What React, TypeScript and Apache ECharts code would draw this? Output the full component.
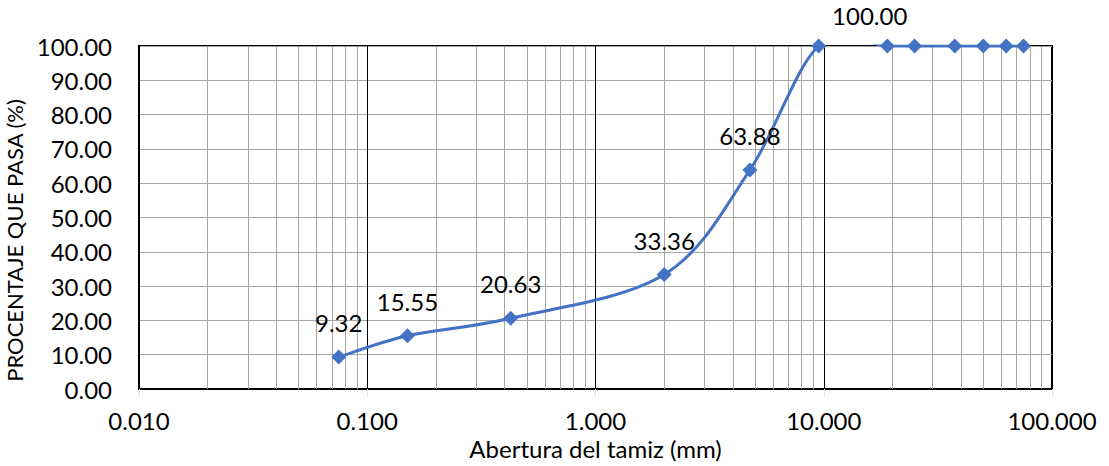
import React, { useEffect, useRef } from "react";
import * as echarts from "echarts";

const sieveSizes = [0.075, 0.15, 0.425, 2.0, 4.75, 9.5, 19, 25, 37.5, 50, 63, 75];
const percentPassing = [9.32, 15.55, 20.63, 33.36, 63.88, 100, 100, 100, 100, 100, 100, 100];
const labeledPoints = [true, true, true, true, true, true, false, false, false, false, false, false];
const minorGridValues = [
  0.02, 0.03, 0.04, 0.05, 0.06, 0.07, 0.08, 0.09,
  0.2, 0.3, 0.4, 0.5, 0.6, 0.7, 0.8, 0.9,
  2, 3, 4, 5, 6, 7, 8, 9,
  20, 30, 40, 50, 60, 70, 80, 90,
];
const xTitle = "Abertura del tamiz (mm)";
const yTitle = "PROCENTAJE QUE PASA (%)";

const FONT = "Lato, 'Open Sans', sans-serif";
const BLUE = "#4472C4";

export default function App() {
  const ref = useRef<HTMLDivElement>(null);
  useEffect(() => {
    if (!ref.current) return;
    const chart = echarts.init(ref.current, undefined, { renderer: "svg" });
    const points = sieveSizes.map((x, i) => [x, percentPassing[i]]);
    const data = points.map((p, i) => {
      const item: any = { value: p };
      if (labeledPoints[i]) {
        item.label = { show: true };
        if (i === 5) item.label.offset = [51, 4];
      }
      return item;
    });

    // Smoothed curve through the data points (Catmull-Rom style, as in spreadsheet charts)
    const renderCurve = (params: any, api: any) => {
      if (params.dataIndex !== 0) return null;
      const px = points.map((p) => api.coord(p));
      const n = px.length;
      let d = `M${px[0][0]},${px[0][1]}`;
      for (let i = 0; i < n - 1; i++) {
        const p0 = px[Math.max(i - 1, 0)];
        const p1 = px[i];
        const p2 = px[i + 1];
        const p3 = px[Math.min(i + 2, n - 1)];
        const c1x = p1[0] + (p2[0] - p0[0]) / 6;
        const c1y = p1[1] + (p2[1] - p0[1]) / 6;
        const c2x = p2[0] - (p3[0] - p1[0]) / 6;
        const c2y = p2[1] - (p3[1] - p1[1]) / 6;
        d += ` C${c1x},${c1y} ${c2x},${c2y} ${p2[0]},${p2[1]}`;
      }
      return {
        type: "path",
        shape: { pathData: d },
        style: { stroke: BLUE, lineWidth: 3, fill: "none" },
      };
    };

    chart.setOption({
      animation: false,
      grid: {
        left: 139,
        right: 57,
        top: 46,
        bottom: 77,
        show: true,
        borderColor: "#000",
        borderWidth: 2,
        backgroundColor: "transparent",
        containLabel: false,
        outerBoundsMode: "none",
      },
      xAxis: {
        type: "log",
        logBase: 10,
        min: 0.01,
        max: 100,
        name: xTitle,
        nameLocation: "middle",
        nameGap: 46,
        nameTextStyle: { fontFamily: FONT, fontSize: 24, color: "#000" },
        axisLine: { show: true, lineStyle: { color: "#000", width: 2 } },
        axisTick: { show: true, length: 8, lineStyle: { color: "#dae3f3" } },
        axisLabel: {
          fontFamily: FONT,
          fontSize: 24,
          color: "#000",
          margin: 19,
          formatter: (v: number) => v.toFixed(3),
        },
        splitLine: { show: true, lineStyle: { color: "#000", width: 1 } },
      },
      yAxis: {
        type: "value",
        min: 0,
        max: 100,
        interval: 10,
        name: yTitle,
        nameLocation: "middle",
        nameGap: 98,
        nameTextStyle: {
          fontFamily: FONT,
          fontSize: 22,
          color: "#000",
          padding: [0, 46, 0, 0],
        },
        axisLine: { show: true, lineStyle: { color: "#000", width: 2 } },
        axisTick: { show: false },
        axisLabel: {
          fontFamily: FONT,
          fontSize: 24,
          color: "#000",
          margin: 27,
          formatter: (v: number) => v.toFixed(2),
        },
        splitLine: { show: true, lineStyle: { color: "#a6a6a6", width: 1 } },
      },
      series: [
        {
          type: "custom",
          data: points,
          renderItem: renderCurve,
          clip: true,
          lineStyle: { width: 3 },
          silent: true,
          z: 4,
        },
        {
          type: "scatter",
          data,
          symbol: "diamond",
          symbolSize: 15,
          itemStyle: { color: BLUE, opacity: 1 },
          label: {
            show: false,
            position: "top",
            distance: 15,
            fontFamily: FONT,
            fontSize: 24,
            color: "#000",
            opacity: 1,
            formatter: (p: any) => p.value[1].toFixed(2),
          },
          markLine: {
            silent: true,
            symbol: "none",
            label: { show: false },
            lineStyle: { color: "#a6a6a6", width: 1, type: "solid", opacity: 1 },
            z: 1,
            data: minorGridValues.map((v) => ({ xAxis: v })),
          },
          z: 5,
        },
      ],
    });
    return () => chart.dispose();
  }, []);
  return (
    <div
      ref={ref}
      style={{ position: "absolute", left: 0, top: 0, width: 1109, height: 466 }}
    />
  );
}
